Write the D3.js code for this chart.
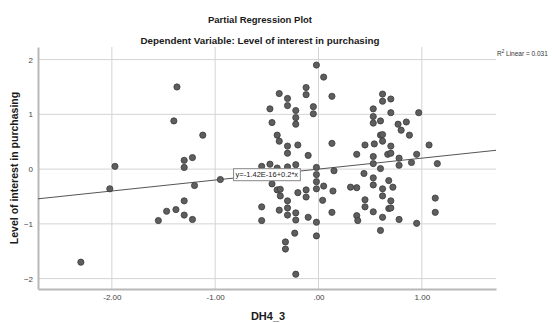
<!DOCTYPE html>
<html>
<head>
<meta charset="utf-8">
<script src="https://cdn.jsdelivr.net/npm/d3@7"></script>
<style>
  html, body { margin: 0; padding: 0; background: #fff; }
  svg { display: block; font-family: "Liberation Sans", Arial, sans-serif; }
</style>
</head>
<body>
<div id="chart"></div>
<script>
// residuals of DH4_3 (x) vs residuals of interest (y)
const xValues = [
  -2.30, -2.02, -1.97, -1.55, -1.47, -1.40, -1.37, -1.38, -1.30, -1.30,
  -1.30, -1.30, -1.22, -1.22, -1.20, -1.12, -0.95,
  -0.55, -0.55, -0.55, -0.47, -0.47, -0.45, -0.45, -0.40, -0.40, -0.40,
  -0.38, -0.38, -0.37, -0.37, -0.38, -0.32, -0.32, -0.30, -0.30, -0.30,
  -0.30, -0.30, -0.30, -0.30, -0.30, -0.22, -0.22, -0.22, -0.22, -0.20,
  -0.22, -0.22, -0.23, -0.22, -0.20, -0.12, -0.12, -0.12, -0.12, -0.10,
  -0.10, -0.05, -0.05, -0.02, -0.02, -0.02, -0.02, -0.02, -0.02, -0.02,
  0.04, 0.05, 0.05, 0.13, 0.13, 0.14, 0.13, 0.15,
  0.31, 0.37, 0.37, 0.37, 0.38, 0.44, 0.45, 0.45, 0.45, 0.53,
  0.53, 0.53, 0.53, 0.53, 0.53, 0.53, 0.53, 0.54, 0.60, 0.60,
  0.60, 0.60, 0.62, 0.62, 0.62, 0.62, 0.62, 0.62, 0.62, 0.67,
  0.68, 0.68, 0.70, 0.70, 0.70, 0.70, 0.72, 0.70, 0.70, 0.77,
  0.78, 0.78, 0.78, 0.80, 0.85, 0.88, 0.90, 0.95, 0.95, 0.97,
  1.07, 1.13, 1.13, 1.15
];
const yValues = [
  -1.70, -0.36, 0.05, -0.94, -0.77, 0.88, 1.50, -0.74, 0.16, 0.03,
  -0.58, -0.84, 0.21, -0.92, -0.30, 0.62, -0.19,
  0.05, -0.69, -0.94, 1.10, 0.09, 0.85, -0.27, 0.62, 0.02, -0.38,
  1.38, 0.51, -0.37, -0.49, -0.75, -1.33, -1.46, 1.29, 1.16, 0.42,
  0.29, 0.04, -0.58, -0.71, -0.84, 1.07, 0.94, 0.82, 0.08, 0.44,
  -0.80, -0.93, -1.17, -1.92, -0.43, 1.49, 1.36, -0.38, -0.51, 0.25,
  -0.88, 1.14, 1.01, 1.90, 0.03, -0.10, -0.23, -0.36, -0.97, -1.22,
  -0.57, 1.68, -0.31, 1.33, 0.47, -0.40, -0.79, -0.03,
  -0.33, 0.27, -0.34, -0.85, -0.94, -0.08, 0.44, -0.56, -0.69, 1.10,
  0.96, 0.84, 0.23, 0.10, -0.16, -0.29, -0.78, 0.46, 0.88, 0.62,
  0.01, -1.12, 1.37, 1.24, 0.63, 0.51, -0.36, -0.49, -0.88, 0.27,
  -0.21, -0.72, 1.28, 1.03, 0.42, 0.29, -0.33, -0.58, -0.71, 0.82,
  0.20, 0.07, -0.92, 0.71, 0.86, 0.62, 0.12, -0.99, 0.27, 1.03,
  0.44, -0.53, -0.79, 0.10
];
const xTicks = [-2, -1, 0, 1];
const xTickLabels = ["-2.00", "-1.00", ".00", "1.00"];
const yTicks = [-2, -1, 0, 1, 2];
const fitIntercept = -1.42e-16;
const fitSlope = 0.2;
const fitLabel = "y=-1.42E-16+0.2*x";
const rSquared = "0.031";

const width = 552, height = 323;
const margin = { top: 47, right: 56, bottom: 34, left: 38 };

const svg = d3.select("#chart").append("svg")
  .attr("width", width).attr("height", height);

const x = d3.scaleLinear().domain([-2.715, 1.718])
  .range([margin.left, width - margin.right]);
const y = d3.scaleLinear().domain([-2.19, 2.23])
  .range([height - margin.bottom, margin.top]);

// titles
svg.append("text").attr("x", 260).attr("y", 23)
  .attr("text-anchor", "middle").attr("font-size", 9.5).attr("font-weight", "bold")
  .attr("fill", "#1a1a1a").text("Partial Regression Plot");
svg.append("text").attr("x", 260).attr("y", 44)
  .attr("text-anchor", "middle").attr("font-size", 9.8).attr("font-weight", "bold")
  .attr("fill", "#1a1a1a").text("Dependent Variable: Level of interest in purchasing");

// gridlines
const grid = svg.append("g").attr("stroke", "#d4d4d4").attr("stroke-width", 1);
grid.selectAll(".vx").data(xTicks).join("line")
  .attr("x1", d => x(d)).attr("x2", d => x(d))
  .attr("y1", y.range()[1]).attr("y2", y.range()[0]);
grid.selectAll(".hy").data(yTicks).join("line")
  .attr("x1", x.range()[0]).attr("x2", x.range()[1])
  .attr("y1", d => y(d)).attr("y2", d => y(d));

// axes
const xAxis = d3.axisBottom(x).tickValues(xTicks)
  .tickFormat((d, i) => xTickLabels[i]).tickSize(0).tickPadding(5);
const yAxis = d3.axisLeft(y).tickValues(yTicks).tickFormat(d3.format("d"))
  .tickSize(0).tickPadding(5);

const gx = svg.append("g").attr("transform", `translate(0,${y.range()[0]})`).call(xAxis);
const gy = svg.append("g").attr("transform", `translate(${x.range()[0]},0)`).call(yAxis);
[gx, gy].forEach(g => {
  g.select(".domain").attr("stroke", "#b8b8b8").attr("stroke-width", 2);
  g.selectAll("text").attr("font-size", 8).attr("fill", "#444")
    .attr("font-family", "Liberation Sans, Arial, sans-serif");
});

// axis titles
svg.append("text").attr("x", 268).attr("y", 320)
  .attr("text-anchor", "middle").attr("font-size", 11).attr("font-weight", "bold")
  .attr("fill", "#1a1a1a").text("DH4_3");
svg.append("text")
  .attr("transform", `translate(18,${(y.range()[0] + y.range()[1]) / 2}) rotate(-90)`)
  .attr("text-anchor", "middle").attr("font-size", 10.5).attr("font-weight", "bold")
  .attr("fill", "#1a1a1a").text("Level of interest in purchasing");

// fit line
const [x0, x1] = x.domain();
svg.append("line")
  .attr("x1", x(x0)).attr("y1", y(fitIntercept + fitSlope * x0))
  .attr("x2", x(x1)).attr("y2", y(fitIntercept + fitSlope * x1))
  .attr("stroke", "#555").attr("stroke-width", 1);

// points
const pts = xValues.map((d, i) => [d, yValues[i]]);
svg.append("g").selectAll("circle").data(pts).join("circle")
  .attr("cx", d => x(d[0])).attr("cy", d => y(d[1])).attr("r", 3.1)
  .attr("fill", "#5e5e5e").attr("stroke", "#3a3a3a").attr("stroke-width", 0.8);

// equation label on the line
const lx = -0.5;
const lbl = svg.append("g")
  .attr("transform", `translate(${x(lx)},${y(fitIntercept + fitSlope * lx)})`);
const lt = lbl.append("text").attr("text-anchor", "middle").attr("dy", "0.35em")
  .attr("font-size", 7.5).attr("fill", "#222").text(fitLabel);
const bb = lt.node().getBBox();
lbl.insert("rect", "text")
  .attr("x", bb.x - 2).attr("y", bb.y - 1.5)
  .attr("width", bb.width + 4).attr("height", bb.height + 3)
  .attr("fill", "#fff").attr("stroke", "#888").attr("stroke-width", 1);

// R squared note
const rt = svg.append("text").attr("x", 497).attr("y", 56)
  .attr("font-size", 6.5).attr("fill", "#333");
rt.append("tspan").text("R");
rt.append("tspan").attr("font-size", 4.5).attr("dy", -3).text("2");
rt.append("tspan").attr("dy", 3).text(" Linear = " + rSquared);
</script>
</body>
</html>
